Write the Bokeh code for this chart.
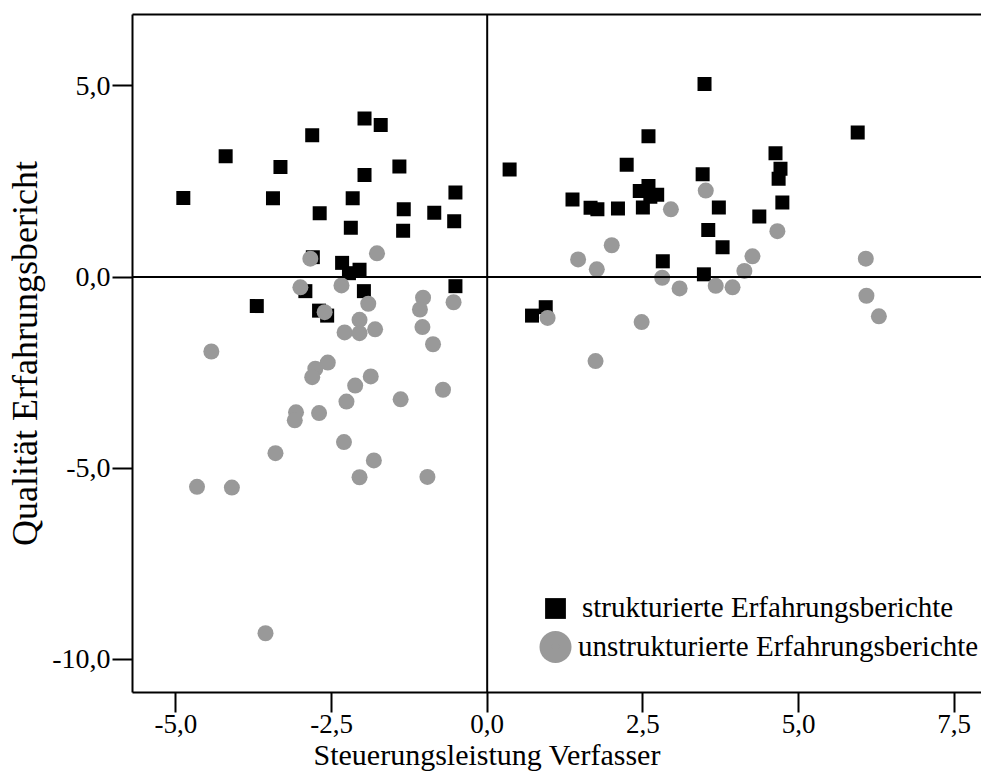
from bokeh.plotting import figure
from bokeh.models import (ColumnDataSource, FixedTicker, LinearAxis, Span, Legend,
                          LegendItem, Title, Range1d)
from bokeh.embed import file_html
from bokeh.resources import INLINE

# ---- data ----
struct_x = [-1.97, -1.71, -2.81, -4.20, -3.32, -1.41, -1.97, -4.88, -3.44, -2.16,
            -0.51, -2.69, -1.34, -0.85, -0.53, -2.19, -1.35, -2.80, -2.33, -2.05,
            -2.22, -0.51, -1.98, -2.92, -3.70, -2.70, -2.57,
            3.49, 2.59, 0.36, 2.24, 4.63, 4.71, 4.68, 3.46, 2.59, 2.45,
            2.73, 2.62, 1.37, 1.66, 1.77, 2.10, 2.50, 3.72, 4.74, 4.37,
            3.55, 3.78, 2.82, 3.48, 0.94, 0.72, 5.95]
struct_y = [4.15, 3.98, 3.71, 3.16, 2.88, 2.89, 2.67, 2.07, 2.06, 2.06,
            2.21, 1.67, 1.77, 1.68, 1.46, 1.29, 1.21, 0.52, 0.37, 0.19,
            0.10, -0.24, -0.37, -0.37, -0.76, -0.88, -1.01,
            5.05, 3.68, 2.81, 2.94, 3.24, 2.83, 2.57, 2.69, 2.38, 2.25,
            2.15, 2.10, 2.03, 1.81, 1.77, 1.79, 1.82, 1.82, 1.95, 1.58,
            1.23, 0.78, 0.41, 0.07, -0.79, -1.01, 3.78]

unstruct_x = [-2.84, -1.77, -3.00, -2.34, -1.91, -0.54, -1.03, -1.08, -2.61, -2.05,
              -2.29, -2.05, -1.80, -1.04, -0.87, -4.43, -2.56, -2.76, -2.81, -1.87,
              -2.12, -0.71, -2.26, -1.39, -3.07, -2.70, -3.09, -2.30, -3.40, -1.82,
              -2.05, -0.96, -4.66, -4.10, -3.56,
              3.51, 2.95, 4.66, 2.00, 1.46, 1.76, 4.26, 4.13, 2.81, 3.09,
              3.67, 3.94, 6.08, 6.09, 6.29, 0.97, 2.48, 1.74]
unstruct_y = [0.48, 0.62, -0.27, -0.22, -0.70, -0.66, -0.54, -0.85, -0.92, -1.12,
              -1.45, -1.47, -1.37, -1.31, -1.76, -1.95, -2.24, -2.40, -2.62, -2.60,
              -2.84, -2.95, -3.26, -3.20, -3.54, -3.56, -3.75, -4.32, -4.61, -4.80,
              -5.24, -5.23, -5.49, -5.51, -9.32,
              2.26, 1.77, 1.20, 0.83, 0.46, 0.20, 0.54, 0.16, -0.02, -0.30,
              -0.23, -0.27, 0.48, -0.49, -1.03, -1.07, -1.18, -2.20]

x_ticks = [-5.0, -2.5, 0.0, 2.5, 5.0, 7.5]
x_tick_labels = ["-5,0", "-2,5", "0,0", "2,5", "5,0", "7,5"]
y_ticks = [5.0, 0.0, -5.0, -10.0]
y_tick_labels = ["5,0", "0,0", "-5,0", "-10,0"]

x_title = "Steuerungsleistung Verfasser"
y_title = "Qualität Erfahrungsbericht"
label_struct = "strukturierte Erfahrungsberichte"
label_unstruct = "unstrukturierte Erfahrungsberichte"

FONT = "Liberation Serif"

# ---- layout (pixels) ----
W, H = 981, 776
BL, BT, BB = 132, 14, 84
FW, FH = W - BL, H - BT - BB

p = figure(width=W, height=H, output_backend="svg", toolbar_location=None,
           x_range=Range1d(-5.696, 7.938), y_range=Range1d(-10.871, 6.868),
           min_border_left=BL, min_border_right=0, min_border_top=BT,
           min_border_bottom=BB, x_axis_type=None, y_axis_type=None)
p.grid.visible = False
p.outline_line_color = None
p.background_fill_color = "white"
p.border_fill_color = "white"
p.extra_x_ranges = {"px": Range1d(0, FW)}
p.extra_y_ranges = {"px": Range1d(0, FH)}

def style_axis(ax, size):
    ax.axis_line_color = "black"
    ax.axis_line_width = 2
    ax.major_tick_line_color = "black"
    ax.major_tick_line_width = 2
    ax.minor_tick_line_color = None
    ax.major_label_text_font = FONT
    ax.major_label_text_font_size = size
    ax.major_label_text_color = "black"

xa = LinearAxis(ticker=FixedTicker(ticks=x_ticks),
                major_label_overrides={t: s for t, s in zip(x_ticks, x_tick_labels)})
style_axis(xa, "27px")
xa.major_tick_out = 20
xa.major_tick_in = 0
xa.major_label_standoff = 2
p.add_layout(xa, "below")

ya = LinearAxis(ticker=FixedTicker(ticks=y_ticks),
                major_label_overrides={t: s for t, s in zip(y_ticks, y_tick_labels)})
style_axis(ya, "28px")
ya.major_tick_out = 20
ya.major_tick_in = 0
ya.major_label_standoff = 2
ya.axis_label = y_title
ya.axis_label_text_font = FONT
ya.axis_label_text_font_size = "36px"
ya.axis_label_text_font_style = "normal"
ya.axis_label_text_color = "black"
ya.axis_label_standoff = 4
p.add_layout(ya, "left")

top = LinearAxis(ticker=FixedTicker(ticks=[]))
top.axis_line_color = "black"
top.axis_line_width = 2
top.major_tick_out = 0
top.major_tick_in = 0
top.major_label_standoff = 0
top.major_label_text_font_size = "0px"
p.add_layout(top, "above")

xt = Title(text=x_title, align="left", offset=181, text_font=FONT,
           text_font_size="30px", text_font_style="normal", text_color="black",
           standoff=0)
p.add_layout(xt, "below")

p.add_layout(Span(location=0, dimension="height", line_color="black", line_width=2))
p.add_layout(Span(location=0, dimension="width", line_color="black", line_width=2))

src_s = ColumnDataSource(dict(x=struct_x, y=struct_y))
src_u = ColumnDataSource(dict(x=unstruct_x, y=unstruct_y))
rs = p.scatter("x", "y", source=src_s, marker="square", size=14,
               fill_color="black", line_color="black", line_width=0)
ru = p.scatter("x", "y", source=src_u, marker="circle", size=16,
               fill_color="#999999", line_color="#999999", line_width=0)

# big legend key for the circle series (legend keys are capped by the glyph box)
key_src = ColumnDataSource(dict(x=[555 - BL], y=[BT + FH - 646.5]))
p.scatter("x", "y", source=key_src, x_range_name="px", y_range_name="px",
          marker="circle", size=32, fill_color="#999999", line_color=None)

def make_legend(label, rend, glyph, standoff, loc):
    return Legend(items=[LegendItem(label=label, renderers=[rend])], location=loc,
                  glyph_width=glyph, glyph_height=glyph, label_standoff=standoff,
                  padding=0, margin=0, spacing=0, border_line_color=None,
                  background_fill_alpha=0, label_text_font=FONT,
                  label_text_font_size="29px", label_text_color="black")

p.add_layout(make_legend(label_struct, rs, 52, 1, (529 - BL, BT + FH - 633.5)))
p.add_layout(make_legend(label_unstruct, ru, 20, 13, (545 - BL, BT + FH - 662.5)))

open("out.html", "w").write(file_html(p, INLINE))
